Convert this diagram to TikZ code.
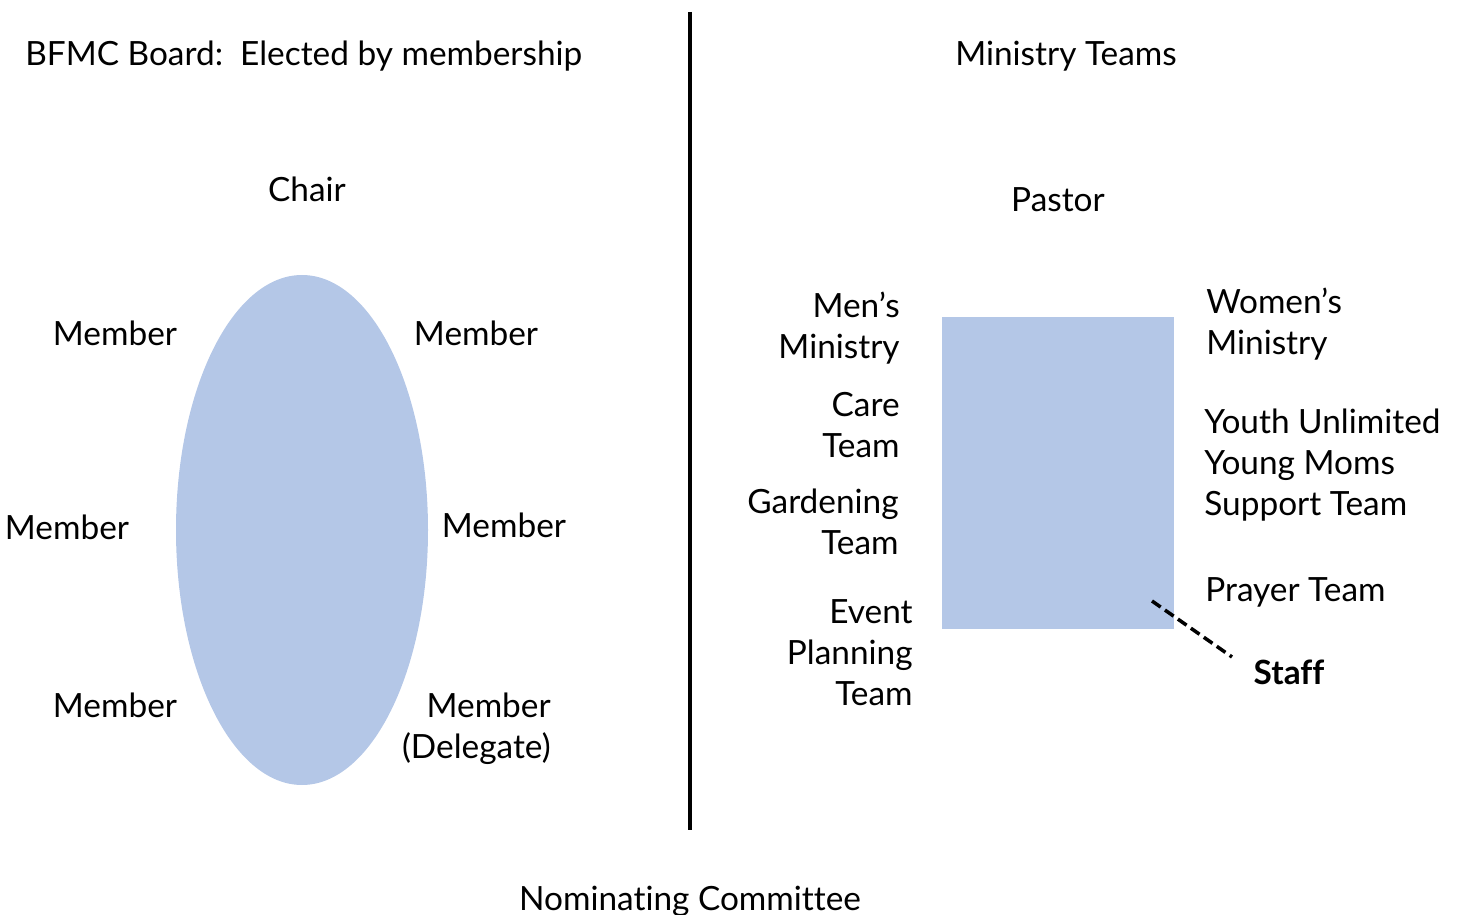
\documentclass[tikz,border=0pt]{standalone}
\usepackage{fontspec}
\setmainfont{Lato}[Ligatures=NoCommon]
\usetikzlibrary{positioning}
\definecolor{boardblue}{HTML}{B4C7E7}

\begin{document}
\begin{tikzpicture}[x=0.02cm, y=-0.02cm, lbl/.style={inner sep=0pt, font=\fontsize{19}{23.4}\selectfont}, rlbl/.style={lbl, align=right}, llbl/.style={lbl, align=left}, divider/.style={line width=2.2pt}]
    \useasboundingbox (0,0) rectangle (1458,915);

    % board side
    \node[lbl, anchor=west] (boardtitle) at (25,56) {BFMC Board:\ \ Elected by membership};
    \node[lbl] (chair) at (307,189) {Chair};
    \fill[boardblue] (302,530) ellipse [x radius=126, y radius=255];
    \node[lbl] (m1) at (115,333) {Member};
    \node[lbl] (m2) at (476,333) {Member};
    \node[lbl] (m3) at (67,527) {Member};
    \node[lbl] (m4) at (504,525) {Member};
    \node[lbl] (m5) at (115,705) {Member};
    \node[rlbl, anchor=east] (m6) at (551,729) {Member\\(Delegate)};

    % divider
    \coordinate (top) at (690,12);
    \coordinate (bottom) at (690,830);
    \draw[divider] (top) -- (bottom);

    % ministry side
    \node[lbl] (teamstitle) at (1066,56) {Ministry Teams};
    \node[lbl] (pastor) at (1058,200) {Pastor};
    \fill[boardblue] (942,317) rectangle (1174,629);

    \node[rlbl, anchor=east] (mens) at (900,328) {Men’s\\Ministry};
    \node[rlbl, anchor=east] (care) at (900,425) {Care\\Team};
    \node[rlbl, anchor=east] (garden) at (899,522) {Gardening\\Team};
    \node[rlbl, anchor=east] (event) at (913,653) {Event\\Planning\\Team};

    \node[llbl, anchor=west] (womens) at (1206,324) {Women’s\\Ministry};
    \node[llbl, anchor=west] (youth) at (1204,465) {Youth Unlimited\\Young Moms\\Support Team};
    \node[llbl, anchor=west] (prayer) at (1205,592) {Prayer Team};

    \node[lbl, font=\fontsize{19}{23.4}\selectfont\bfseries] (staff) at (1289,672) {Staff};
    \coordinate (dashA) at (1152,601);
    \coordinate (dashB) at (1232,657);
    \draw[line width=2pt, dash pattern=on 6pt off 3pt] (dashA) -- (dashB);

    \node[lbl] (nominate) at (690,901) {Nominating Committee};
\end{tikzpicture}
\end{document}
